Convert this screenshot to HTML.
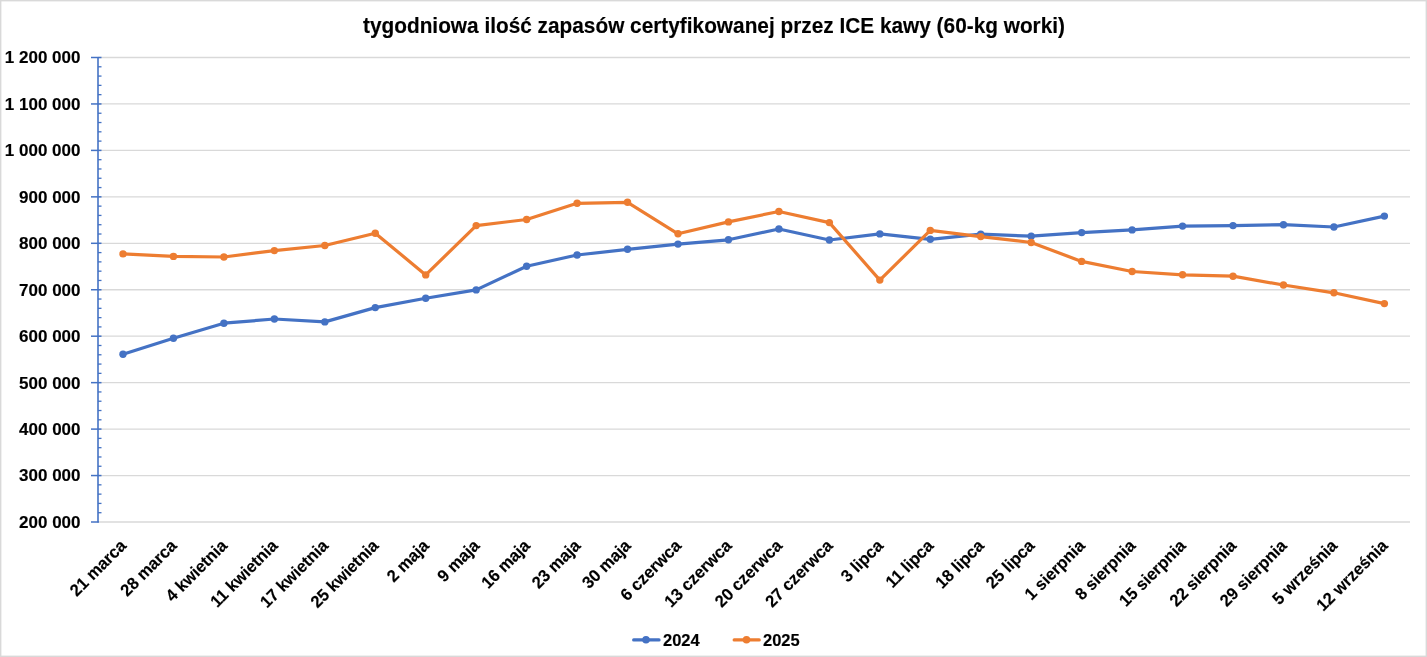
<!DOCTYPE html><html><head><meta charset="utf-8"><style>html,body{margin:0;padding:0;background:#fff;width:1427px;height:657px;overflow:hidden}svg{display:block;will-change:transform}text{stroke:#000;stroke-width:0.15px;font-family:"Liberation Sans", sans-serif;font-weight:bold;fill:#000}</style></head><body>
<svg width="1427" height="657" viewBox="0 0 1427 657">
<rect x="0.7" y="0.7" width="1425.6" height="655.6" fill="#fff" stroke="#d9d9d9" stroke-width="1.4"/>
<line x1="98.0" y1="57.50" x2="1410" y2="57.50" stroke="#d9d9d9" stroke-width="1.3"/>
<line x1="98.0" y1="103.95" x2="1410" y2="103.95" stroke="#d9d9d9" stroke-width="1.3"/>
<line x1="98.0" y1="150.40" x2="1410" y2="150.40" stroke="#d9d9d9" stroke-width="1.3"/>
<line x1="98.0" y1="196.85" x2="1410" y2="196.85" stroke="#d9d9d9" stroke-width="1.3"/>
<line x1="98.0" y1="243.30" x2="1410" y2="243.30" stroke="#d9d9d9" stroke-width="1.3"/>
<line x1="98.0" y1="289.75" x2="1410" y2="289.75" stroke="#d9d9d9" stroke-width="1.3"/>
<line x1="98.0" y1="336.20" x2="1410" y2="336.20" stroke="#d9d9d9" stroke-width="1.3"/>
<line x1="98.0" y1="382.65" x2="1410" y2="382.65" stroke="#d9d9d9" stroke-width="1.3"/>
<line x1="98.0" y1="429.10" x2="1410" y2="429.10" stroke="#d9d9d9" stroke-width="1.3"/>
<line x1="98.0" y1="475.55" x2="1410" y2="475.55" stroke="#d9d9d9" stroke-width="1.3"/>
<line x1="98.0" y1="522.00" x2="1410" y2="522.00" stroke="#d9d9d9" stroke-width="1.3"/>
<line x1="98.0" y1="57.50" x2="98.0" y2="522.60" stroke="#4472c4" stroke-width="1.6"/>
<line x1="91" y1="57.50" x2="101.5" y2="57.50" stroke="#4472c4" stroke-width="1.5"/>
<line x1="98.0" y1="66.79" x2="101.5" y2="66.79" stroke="#4472c4" stroke-width="1.3"/>
<line x1="98.0" y1="76.08" x2="101.5" y2="76.08" stroke="#4472c4" stroke-width="1.3"/>
<line x1="98.0" y1="85.37" x2="101.5" y2="85.37" stroke="#4472c4" stroke-width="1.3"/>
<line x1="98.0" y1="94.66" x2="101.5" y2="94.66" stroke="#4472c4" stroke-width="1.3"/>
<line x1="91" y1="103.95" x2="101.5" y2="103.95" stroke="#4472c4" stroke-width="1.5"/>
<line x1="98.0" y1="113.24" x2="101.5" y2="113.24" stroke="#4472c4" stroke-width="1.3"/>
<line x1="98.0" y1="122.53" x2="101.5" y2="122.53" stroke="#4472c4" stroke-width="1.3"/>
<line x1="98.0" y1="131.82" x2="101.5" y2="131.82" stroke="#4472c4" stroke-width="1.3"/>
<line x1="98.0" y1="141.11" x2="101.5" y2="141.11" stroke="#4472c4" stroke-width="1.3"/>
<line x1="91" y1="150.40" x2="101.5" y2="150.40" stroke="#4472c4" stroke-width="1.5"/>
<line x1="98.0" y1="159.69" x2="101.5" y2="159.69" stroke="#4472c4" stroke-width="1.3"/>
<line x1="98.0" y1="168.98" x2="101.5" y2="168.98" stroke="#4472c4" stroke-width="1.3"/>
<line x1="98.0" y1="178.27" x2="101.5" y2="178.27" stroke="#4472c4" stroke-width="1.3"/>
<line x1="98.0" y1="187.56" x2="101.5" y2="187.56" stroke="#4472c4" stroke-width="1.3"/>
<line x1="91" y1="196.85" x2="101.5" y2="196.85" stroke="#4472c4" stroke-width="1.5"/>
<line x1="98.0" y1="206.14" x2="101.5" y2="206.14" stroke="#4472c4" stroke-width="1.3"/>
<line x1="98.0" y1="215.43" x2="101.5" y2="215.43" stroke="#4472c4" stroke-width="1.3"/>
<line x1="98.0" y1="224.72" x2="101.5" y2="224.72" stroke="#4472c4" stroke-width="1.3"/>
<line x1="98.0" y1="234.01" x2="101.5" y2="234.01" stroke="#4472c4" stroke-width="1.3"/>
<line x1="91" y1="243.30" x2="101.5" y2="243.30" stroke="#4472c4" stroke-width="1.5"/>
<line x1="98.0" y1="252.59" x2="101.5" y2="252.59" stroke="#4472c4" stroke-width="1.3"/>
<line x1="98.0" y1="261.88" x2="101.5" y2="261.88" stroke="#4472c4" stroke-width="1.3"/>
<line x1="98.0" y1="271.17" x2="101.5" y2="271.17" stroke="#4472c4" stroke-width="1.3"/>
<line x1="98.0" y1="280.46" x2="101.5" y2="280.46" stroke="#4472c4" stroke-width="1.3"/>
<line x1="91" y1="289.75" x2="101.5" y2="289.75" stroke="#4472c4" stroke-width="1.5"/>
<line x1="98.0" y1="299.04" x2="101.5" y2="299.04" stroke="#4472c4" stroke-width="1.3"/>
<line x1="98.0" y1="308.33" x2="101.5" y2="308.33" stroke="#4472c4" stroke-width="1.3"/>
<line x1="98.0" y1="317.62" x2="101.5" y2="317.62" stroke="#4472c4" stroke-width="1.3"/>
<line x1="98.0" y1="326.91" x2="101.5" y2="326.91" stroke="#4472c4" stroke-width="1.3"/>
<line x1="91" y1="336.20" x2="101.5" y2="336.20" stroke="#4472c4" stroke-width="1.5"/>
<line x1="98.0" y1="345.49" x2="101.5" y2="345.49" stroke="#4472c4" stroke-width="1.3"/>
<line x1="98.0" y1="354.78" x2="101.5" y2="354.78" stroke="#4472c4" stroke-width="1.3"/>
<line x1="98.0" y1="364.07" x2="101.5" y2="364.07" stroke="#4472c4" stroke-width="1.3"/>
<line x1="98.0" y1="373.36" x2="101.5" y2="373.36" stroke="#4472c4" stroke-width="1.3"/>
<line x1="91" y1="382.65" x2="101.5" y2="382.65" stroke="#4472c4" stroke-width="1.5"/>
<line x1="98.0" y1="391.94" x2="101.5" y2="391.94" stroke="#4472c4" stroke-width="1.3"/>
<line x1="98.0" y1="401.23" x2="101.5" y2="401.23" stroke="#4472c4" stroke-width="1.3"/>
<line x1="98.0" y1="410.52" x2="101.5" y2="410.52" stroke="#4472c4" stroke-width="1.3"/>
<line x1="98.0" y1="419.81" x2="101.5" y2="419.81" stroke="#4472c4" stroke-width="1.3"/>
<line x1="91" y1="429.10" x2="101.5" y2="429.10" stroke="#4472c4" stroke-width="1.5"/>
<line x1="98.0" y1="438.39" x2="101.5" y2="438.39" stroke="#4472c4" stroke-width="1.3"/>
<line x1="98.0" y1="447.68" x2="101.5" y2="447.68" stroke="#4472c4" stroke-width="1.3"/>
<line x1="98.0" y1="456.97" x2="101.5" y2="456.97" stroke="#4472c4" stroke-width="1.3"/>
<line x1="98.0" y1="466.26" x2="101.5" y2="466.26" stroke="#4472c4" stroke-width="1.3"/>
<line x1="91" y1="475.55" x2="101.5" y2="475.55" stroke="#4472c4" stroke-width="1.5"/>
<line x1="98.0" y1="484.84" x2="101.5" y2="484.84" stroke="#4472c4" stroke-width="1.3"/>
<line x1="98.0" y1="494.13" x2="101.5" y2="494.13" stroke="#4472c4" stroke-width="1.3"/>
<line x1="98.0" y1="503.42" x2="101.5" y2="503.42" stroke="#4472c4" stroke-width="1.3"/>
<line x1="98.0" y1="512.71" x2="101.5" y2="512.71" stroke="#4472c4" stroke-width="1.3"/>
<line x1="91" y1="522.00" x2="98.8" y2="522.00" stroke="#4472c4" stroke-width="1.5"/>
<text x="80.5" y="63.40" font-size="17" text-anchor="end">1 200 000</text>
<text x="80.5" y="109.85" font-size="17" text-anchor="end">1 100 000</text>
<text x="80.5" y="156.30" font-size="17" text-anchor="end">1 000 000</text>
<text x="80.5" y="202.75" font-size="17" text-anchor="end">900 000</text>
<text x="80.5" y="249.20" font-size="17" text-anchor="end">800 000</text>
<text x="80.5" y="295.65" font-size="17" text-anchor="end">700 000</text>
<text x="80.5" y="342.10" font-size="17" text-anchor="end">600 000</text>
<text x="80.5" y="388.55" font-size="17" text-anchor="end">500 000</text>
<text x="80.5" y="435.00" font-size="17" text-anchor="end">400 000</text>
<text x="80.5" y="481.45" font-size="17" text-anchor="end">300 000</text>
<text x="80.5" y="527.90" font-size="17" text-anchor="end">200 000</text>
<polyline points="123.00,354.20 173.45,338.30 223.91,323.20 274.37,319.00 324.82,321.90 375.27,307.60 425.73,298.20 476.19,289.90 526.64,266.30 577.10,255.00 627.55,249.30 678.00,244.10 728.46,239.80 778.91,229.00 829.37,240.00 879.82,233.90 930.28,239.30 980.74,234.20 1031.19,236.20 1081.64,232.60 1132.10,229.90 1182.56,226.10 1233.01,225.60 1283.46,224.70 1333.92,227.00 1384.38,216.10" fill="none" stroke="#4472c4" stroke-width="3.2" stroke-linejoin="round" stroke-linecap="round"/><circle cx="123.00" cy="354.20" r="3.7" fill="#4472c4"/><circle cx="173.45" cy="338.30" r="3.7" fill="#4472c4"/><circle cx="223.91" cy="323.20" r="3.7" fill="#4472c4"/><circle cx="274.37" cy="319.00" r="3.7" fill="#4472c4"/><circle cx="324.82" cy="321.90" r="3.7" fill="#4472c4"/><circle cx="375.27" cy="307.60" r="3.7" fill="#4472c4"/><circle cx="425.73" cy="298.20" r="3.7" fill="#4472c4"/><circle cx="476.19" cy="289.90" r="3.7" fill="#4472c4"/><circle cx="526.64" cy="266.30" r="3.7" fill="#4472c4"/><circle cx="577.10" cy="255.00" r="3.7" fill="#4472c4"/><circle cx="627.55" cy="249.30" r="3.7" fill="#4472c4"/><circle cx="678.00" cy="244.10" r="3.7" fill="#4472c4"/><circle cx="728.46" cy="239.80" r="3.7" fill="#4472c4"/><circle cx="778.91" cy="229.00" r="3.7" fill="#4472c4"/><circle cx="829.37" cy="240.00" r="3.7" fill="#4472c4"/><circle cx="879.82" cy="233.90" r="3.7" fill="#4472c4"/><circle cx="930.28" cy="239.30" r="3.7" fill="#4472c4"/><circle cx="980.74" cy="234.20" r="3.7" fill="#4472c4"/><circle cx="1031.19" cy="236.20" r="3.7" fill="#4472c4"/><circle cx="1081.64" cy="232.60" r="3.7" fill="#4472c4"/><circle cx="1132.10" cy="229.90" r="3.7" fill="#4472c4"/><circle cx="1182.56" cy="226.10" r="3.7" fill="#4472c4"/><circle cx="1233.01" cy="225.60" r="3.7" fill="#4472c4"/><circle cx="1283.46" cy="224.70" r="3.7" fill="#4472c4"/><circle cx="1333.92" cy="227.00" r="3.7" fill="#4472c4"/><circle cx="1384.38" cy="216.10" r="3.7" fill="#4472c4"/>
<polyline points="123.00,253.90 173.45,256.40 223.91,257.00 274.37,250.60 324.82,245.50 375.27,233.20 425.73,274.90 476.19,225.60 526.64,219.50 577.10,203.30 627.55,202.30 678.00,233.80 728.46,221.90 778.91,211.50 829.37,222.60 879.82,280.10 930.28,230.40 980.74,236.60 1031.19,242.50 1081.64,261.40 1132.10,271.50 1182.56,274.80 1233.01,276.20 1283.46,285.00 1333.92,292.80 1384.38,303.60" fill="none" stroke="#ed7d31" stroke-width="3.2" stroke-linejoin="round" stroke-linecap="round"/><circle cx="123.00" cy="253.90" r="3.7" fill="#ed7d31"/><circle cx="173.45" cy="256.40" r="3.7" fill="#ed7d31"/><circle cx="223.91" cy="257.00" r="3.7" fill="#ed7d31"/><circle cx="274.37" cy="250.60" r="3.7" fill="#ed7d31"/><circle cx="324.82" cy="245.50" r="3.7" fill="#ed7d31"/><circle cx="375.27" cy="233.20" r="3.7" fill="#ed7d31"/><circle cx="425.73" cy="274.90" r="3.7" fill="#ed7d31"/><circle cx="476.19" cy="225.60" r="3.7" fill="#ed7d31"/><circle cx="526.64" cy="219.50" r="3.7" fill="#ed7d31"/><circle cx="577.10" cy="203.30" r="3.7" fill="#ed7d31"/><circle cx="627.55" cy="202.30" r="3.7" fill="#ed7d31"/><circle cx="678.00" cy="233.80" r="3.7" fill="#ed7d31"/><circle cx="728.46" cy="221.90" r="3.7" fill="#ed7d31"/><circle cx="778.91" cy="211.50" r="3.7" fill="#ed7d31"/><circle cx="829.37" cy="222.60" r="3.7" fill="#ed7d31"/><circle cx="879.82" cy="280.10" r="3.7" fill="#ed7d31"/><circle cx="930.28" cy="230.40" r="3.7" fill="#ed7d31"/><circle cx="980.74" cy="236.60" r="3.7" fill="#ed7d31"/><circle cx="1031.19" cy="242.50" r="3.7" fill="#ed7d31"/><circle cx="1081.64" cy="261.40" r="3.7" fill="#ed7d31"/><circle cx="1132.10" cy="271.50" r="3.7" fill="#ed7d31"/><circle cx="1182.56" cy="274.80" r="3.7" fill="#ed7d31"/><circle cx="1233.01" cy="276.20" r="3.7" fill="#ed7d31"/><circle cx="1283.46" cy="285.00" r="3.7" fill="#ed7d31"/><circle cx="1333.92" cy="292.80" r="3.7" fill="#ed7d31"/><circle cx="1384.38" cy="303.60" r="3.7" fill="#ed7d31"/>
<text transform="translate(127.30,546.7) rotate(-45) scale(0.97,1)" font-size="17" text-anchor="end">21 marca</text>
<text transform="translate(177.75,546.7) rotate(-45) scale(0.97,1)" font-size="17" text-anchor="end">28 marca</text>
<text transform="translate(228.21,546.7) rotate(-45) scale(0.97,1)" font-size="17" text-anchor="end">4 kwietnia</text>
<text transform="translate(278.67,546.7) rotate(-45) scale(0.97,1)" font-size="17" text-anchor="end">11 kwietnia</text>
<text transform="translate(329.12,546.7) rotate(-45) scale(0.97,1)" font-size="17" text-anchor="end">17 kwietnia</text>
<text transform="translate(379.57,546.7) rotate(-45) scale(0.97,1)" font-size="17" text-anchor="end">25 kwietnia</text>
<text transform="translate(430.03,546.7) rotate(-45) scale(0.97,1)" font-size="17" text-anchor="end">2 maja</text>
<text transform="translate(480.49,546.7) rotate(-45) scale(0.97,1)" font-size="17" text-anchor="end">9 maja</text>
<text transform="translate(530.94,546.7) rotate(-45) scale(0.97,1)" font-size="17" text-anchor="end">16 maja</text>
<text transform="translate(581.39,546.7) rotate(-45) scale(0.97,1)" font-size="17" text-anchor="end">23 maja</text>
<text transform="translate(631.85,546.7) rotate(-45) scale(0.97,1)" font-size="17" text-anchor="end">30 maja</text>
<text transform="translate(682.30,546.7) rotate(-45) scale(0.97,1)" font-size="17" text-anchor="end">6 czerwca</text>
<text transform="translate(732.76,546.7) rotate(-45) scale(0.97,1)" font-size="17" text-anchor="end">13 czerwca</text>
<text transform="translate(783.21,546.7) rotate(-45) scale(0.97,1)" font-size="17" text-anchor="end">20 czerwca</text>
<text transform="translate(833.67,546.7) rotate(-45) scale(0.97,1)" font-size="17" text-anchor="end">27 czerwca</text>
<text transform="translate(884.12,546.7) rotate(-45) scale(0.97,1)" font-size="17" text-anchor="end">3 lipca</text>
<text transform="translate(934.58,546.7) rotate(-45) scale(0.97,1)" font-size="17" text-anchor="end">11 lipca</text>
<text transform="translate(985.03,546.7) rotate(-45) scale(0.97,1)" font-size="17" text-anchor="end">18 lipca</text>
<text transform="translate(1035.49,546.7) rotate(-45) scale(0.97,1)" font-size="17" text-anchor="end">25 lipca</text>
<text transform="translate(1085.94,546.7) rotate(-45) scale(0.97,1)" font-size="17" text-anchor="end">1 sierpnia</text>
<text transform="translate(1136.40,546.7) rotate(-45) scale(0.97,1)" font-size="17" text-anchor="end">8 sierpnia</text>
<text transform="translate(1186.86,546.7) rotate(-45) scale(0.97,1)" font-size="17" text-anchor="end">15 sierpnia</text>
<text transform="translate(1237.31,546.7) rotate(-45) scale(0.97,1)" font-size="17" text-anchor="end">22 sierpnia</text>
<text transform="translate(1287.76,546.7) rotate(-45) scale(0.97,1)" font-size="17" text-anchor="end">29 sierpnia</text>
<text transform="translate(1338.22,546.7) rotate(-45) scale(0.97,1)" font-size="17" text-anchor="end">5 września</text>
<text transform="translate(1388.67,546.7) rotate(-45) scale(0.97,1)" font-size="17" text-anchor="end">12 września</text>
<text x="363" y="33.1" font-size="22.7" textLength="702" lengthAdjust="spacingAndGlyphs" stroke="#000" stroke-width="0.35">tygodniowa ilość zapasów certyfikowanej przez ICE kawy (60-kg worki)</text>
<line x1="633.7" y1="639.9" x2="659" y2="639.9" stroke="#4472c4" stroke-width="3.3" stroke-linecap="round"/><circle cx="646" cy="639.8" r="3.8" fill="#4472c4"/>
<text x="663" y="645.5" font-size="16.5">2024</text>
<line x1="734.2" y1="639.9" x2="759.2" y2="639.9" stroke="#ed7d31" stroke-width="3.3" stroke-linecap="round"/><circle cx="746.5" cy="639.8" r="3.8" fill="#ed7d31"/>
<text x="763" y="645.5" font-size="16.5">2025</text>
</svg></body></html>
